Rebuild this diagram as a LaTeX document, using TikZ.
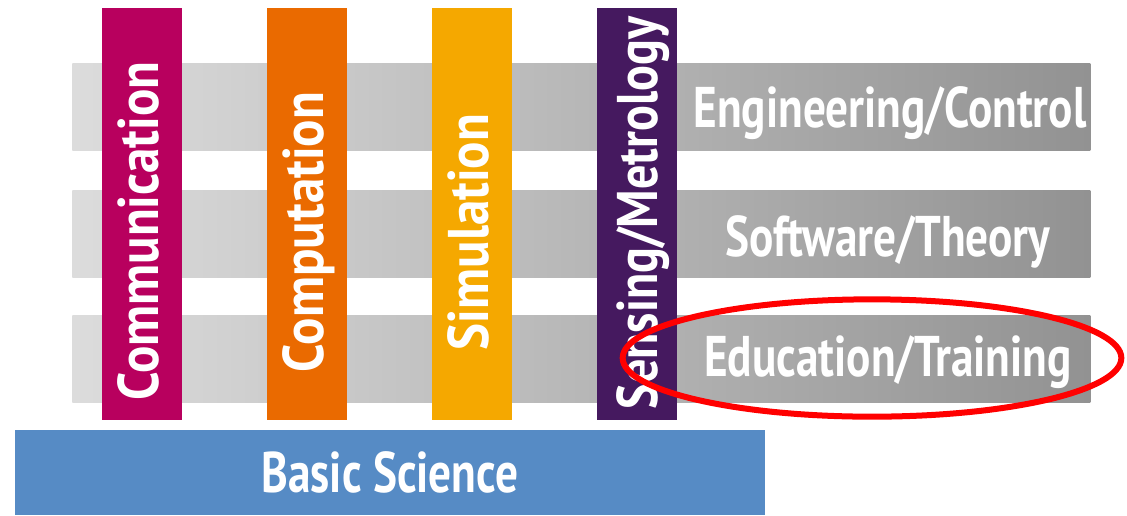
\documentclass[tikz,border=0pt]{standalone}
\usepackage{fontspec}
\usepackage{xcolor}
\usetikzlibrary{positioning,shapes.geometric}
\newfontfamily\narrowfont[FakeStretch=0.79]{PT Sans}
\newfontfamily\pillarfont[FakeStretch=0.89]{PT Sans}
\newfontfamily\sensfont[FakeStretch=0.84]{PT Sans}
\definecolor{comm}{HTML}{B8005E}
\definecolor{comp}{HTML}{EA6A00}
\definecolor{simu}{HTML}{F5A800}
\definecolor{sens}{HTML}{45195F}
\definecolor{basic}{HTML}{568BC5}
\definecolor{graylt}{HTML}{DCDCDC}
\definecolor{graydk}{HTML}{929292}
\definecolor{ringred}{HTML}{FF0000}
\newcommand{\BarFont}{\narrowfont\bfseries\fontsize{43}{43}\selectfont}
\newcommand{\PillarFont}{\pillarfont\bfseries\fontsize{43}{43}\selectfont}
\newcommand{\SensFont}{\sensfont\bfseries\fontsize{43}{43}\selectfont}
\tikzset{
  layer/.style={inner sep=0, anchor=north west, minimum width=763.5pt, minimum height=65.25pt,
                left color=graylt, right color=graydk},
  pillar/.style={inner sep=0, anchor=north west, minimum width=60pt, minimum height=309pt},
  base/.style={inner sep=0, anchor=north west, minimum width=562.5pt, minimum height=63.75pt, fill=basic},
  plab/.style={rotate=90, anchor=base, text=white, font=\PillarFont, inner sep=0},
  llab/.style={anchor=base, text=white, font=\BarFont, inner sep=0},
  ring/.style={ellipse, draw=ringred, line width=4.5pt, minimum width=374pt, minimum height=88pt, inner sep=0},
}

\begin{document}
\begin{tikzpicture}[x=0.75pt,y=-0.75pt]
  \useasboundingbox (0,0) rectangle (1127,515);
  % layers
  \node[layer] (eng) at (72,63) {};
  \node[layer] (soft) at (72,190) {};
  \node[layer] (edu) at (72,315) {};
  % pillars
  \node[pillar, fill=comm] (pcomm) at (102,8) {};
  \node[pillar, fill=comp] (pcomp) at (267,8) {};
  \node[pillar, fill=simu] (psimu) at (432,8) {};
  \node[pillar, fill=sens] (psens) at (597,8) {};
  \node[plab] (lcomm) at (158,231) {Communication};
  \node[plab] (lcomp) at (323,232) {Computation};
  \node[plab] (lsimu) at (488,232) {Simulation};
  \node[plab, font=\SensFont] (lsens) at (657,213) {Sensing/Metrology};
  % base
  \node[base] (bsci) at (15,430) {};
  \node[llab] (lbsci) at (390,492) {Basic Science};
  % layer labels
  \node[llab] (leng) at (890,127) {Engineering/Control};
  \node[llab] (lsoft) at (888,256) {Software/Theory};
  \node[llab] (ledu) at (888,376) {Education/Training};
  \node[ring] (mark) at (872,358) {};
\end{tikzpicture}
\end{document}
